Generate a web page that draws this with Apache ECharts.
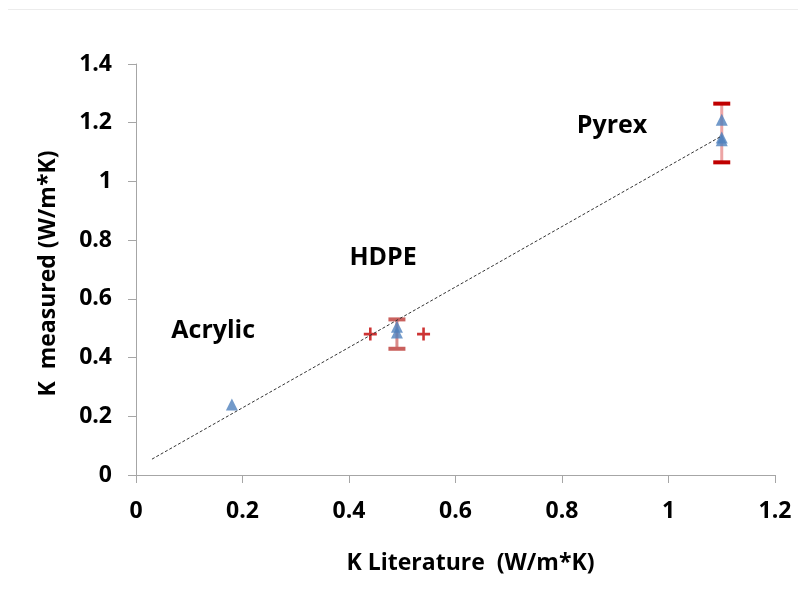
<!DOCTYPE html>
<html>
<head>
<meta charset="utf-8">
<script src="https://cdn.jsdelivr.net/npm/echarts@6/dist/echarts.min.js"></script>
<style>
html, body { margin: 0; padding: 0; background: #fff; }
#main { width: 798px; height: 596px; }
</style>
</head>
<body>
<div id="main"></div>
<script>
// measured points (K literature, K measured)
var triPoints = [[0.18, 0.24], [0.49, 0.505], [0.49, 0.485], [1.1, 1.21], [1.1, 1.15], [1.1, 1.14]];
// horizontal limits shown as crosses
var crossPoints = [[0.44, 0.48], [0.54, 0.48]];
// vertical error bars: x, centre, half-width
var errX = [0.49, 1.1];
var errMid = [0.48, 1.165];
var errHalf = [0.05, 0.1];
// fitted trend line end points
var trendLine = [[0.03, 0.054], [1.1, 1.155]];
// material labels
var matNames = ['Acrylic', 'HDPE', 'Pyrex'];
var matPos = [[0.145, 0.49], [0.464, 0.74], [0.894, 1.19]];

var capColors = ['#c9605d', '#c00000'];
var stemColors = ['#d98a88', '#eda5a5'];
var font = 'Open Sans';

var errData = errX.map(function (x, i) {
	return [x, errMid[i] - errHalf[i], errMid[i] + errHalf[i]];
});

var chart = echarts.init(document.getElementById('main'));
chart.setOption({
	animation: false,
	grid: { left: 136, right: 23, top: 64, bottom: 121 },
	xAxis: {
		type: 'value',
		min: 0, max: 1.2, interval: 0.2,
		name: 'K Literature  (W/m*K)',
		nameLocation: 'middle',
		nameGap: 77,
		nameTextStyle: { fontFamily: font, fontWeight: 'bold', fontSize: 23, color: '#000', padding: [0, 0, 0, 30] },
		axisLine: { lineStyle: { color: '#a6a6a6', width: 1 } },
		axisTick: { show: true, length: 8, lineStyle: { color: '#a6a6a6' } },
		axisLabel: { margin: 25, fontFamily: font, fontWeight: 'bold', fontSize: 23, color: '#000' },
		splitLine: { show: false }
	},
	yAxis: {
		type: 'value',
		min: 0, max: 1.4, interval: 0.2,
		name: 'K  measured (W/m*K)',
		nameLocation: 'middle',
		nameGap: 76,
		nameTextStyle: { fontFamily: font, fontWeight: 'bold', fontSize: 23, color: '#000', padding: [0, 8, 0, 0] },
		axisLine: { show: true, lineStyle: { color: '#a6a6a6', width: 1 } },
		axisTick: { show: true, length: 8, lineStyle: { color: '#a6a6a6' } },
		axisLabel: { margin: 24, fontFamily: font, fontWeight: 'bold', fontSize: 23, color: '#000' },
		splitLine: { show: false }
	},
	series: [{
		type: 'custom',
		z: 1,
		data: errData,
		renderItem: function (params, api) {
			var lo = api.coord([api.value(0), api.value(1)]);
			var hi = api.coord([api.value(0), api.value(2)]);
			var i = params.dataIndex;
			var w = 8.5;
			return {
				type: 'group',
				children: [{
					type: 'line',
					shape: { x1: lo[0], y1: lo[1], x2: hi[0], y2: hi[1] },
					style: { stroke: stemColors[i], lineWidth: 3 }
				}, {
					type: 'line',
					shape: { x1: lo[0] - w, y1: lo[1], x2: lo[0] + w, y2: lo[1] },
					style: { stroke: capColors[i], lineWidth: 4 }
				}, {
					type: 'line',
					shape: { x1: hi[0] - w, y1: hi[1], x2: hi[0] + w, y2: hi[1] },
					style: { stroke: capColors[i], lineWidth: 4 }
				}]
			};
		}
	}, {
		type: 'scatter',
		z: 3,
		symbol: 'triangle',
		symbolSize: 12,
		itemStyle: { color: '#4f81bd' },
		data: triPoints
	}, {
		type: 'scatter',
		z: 3,
		symbol: 'path://M4,0 H6 V4 H10 V6 H6 V10 H4 V6 H0 V4 H4 Z',
		symbolSize: 13,
		itemStyle: { color: '#c00000' },
		data: crossPoints
	}, {
		type: 'line',
		z: 4,
		symbol: 'none',
		lineStyle: { color: '#333', width: 1, type: [3, 2] },
		data: trendLine
	}]
});

// faint frame line at the top and material names placed in data coordinates
var graphics = [{
	type: 'line',
	shape: { x1: 8, y1: 9.5, x2: 798, y2: 9.5 },
	style: { stroke: '#ececec', lineWidth: 1 }
}];
matNames.forEach(function (n, i) {
	var p = chart.convertToPixel({ gridIndex: 0 }, matPos[i]);
	graphics.push({
		type: 'text',
		x: p[0], y: p[1], z: 10,
		style: {
			text: n,
			fill: '#000',
			font: 'bold 25px "Open Sans"',
			align: 'center',
			verticalAlign: 'middle'
		}
	});
});
chart.setOption({ graphic: graphics });
</script>
</body>
</html>
